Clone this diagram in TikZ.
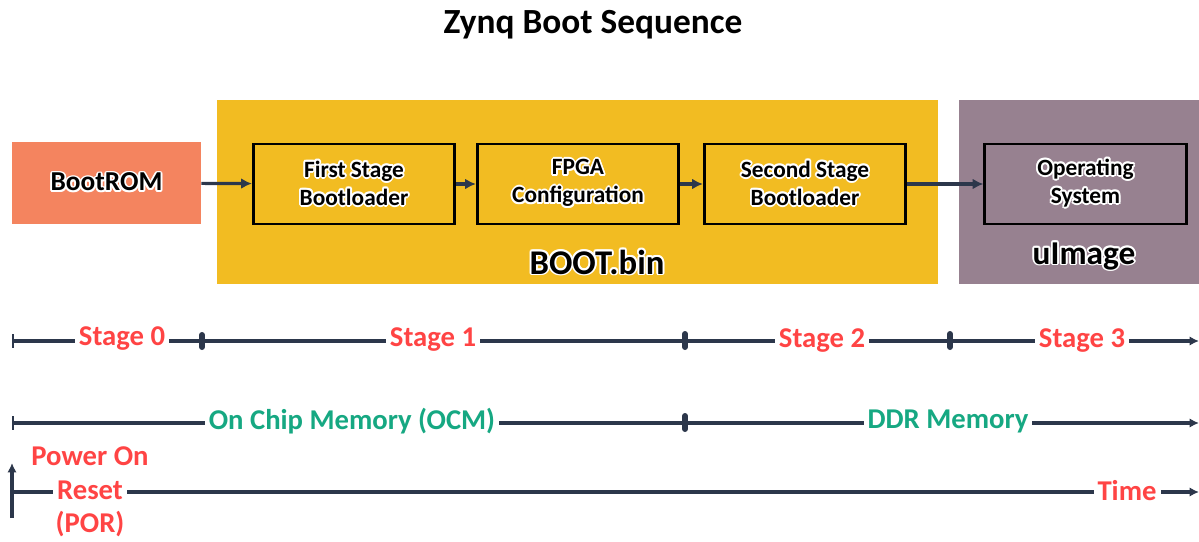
\documentclass[tikz,border=0pt]{standalone}
\usepackage{fontspec}
\setmainfont{Carlito}
\usepackage{contour}
\contourlength{1.4pt}
\contournumber{10}
\usetikzlibrary{arrows.meta}
\definecolor{salmon}{RGB}{244,132,95}
\definecolor{gold}{RGB}{242,188,34}
\definecolor{mauve}{RGB}{151,129,144}
\definecolor{navy}{RGB}{44,55,75}
\definecolor{lred}{RGB}{255,68,68}
\definecolor{teal}{RGB}{22,168,130}
\tikzset{
  blk/.style={draw=black, line width=2.2pt, minimum width=151pt, minimum height=60pt, align=center, font=\bfseries\fontsize{17.5}{21}\selectfont, inner sep=0pt},
  flow/.style={navy, line width=2.4pt, -{Latex[length=8pt,width=8pt]}},
  tla/.style={navy, line width=2.4pt, -{Latex[length=7pt,width=7pt]}},
  tick/.style={navy, line width=4.5pt, line cap=round},
  lab/.style={fill=white, inner xsep=3pt, inner ysep=0pt, font=\bfseries\fontsize{21.5}{22}\selectfont},
  plainlab/.style={inner sep=0pt, font=\bfseries\fontsize{21.5}{22}\selectfont},
}
\newcommand{\wt}[1]{\contour{white}{#1}}
\begin{document}
\begin{tikzpicture}[x=0.75pt,y=-0.75pt]
\useasboundingbox (0,0) rectangle (1199,542);
% title
\node[font=\bfseries\fontsize{26.5}{28}\selectfont] (title) at (593,25) {Zynq Boot Sequence};
% backgrounds
\fill[gold] (217,100) rectangle (938,284);
\fill[mauve] (959,100) rectangle (1199,284);
\node[minimum width=142pt, minimum height=61.5pt, fill=salmon, inner sep=0pt, font=\bfseries\fontsize{20.5}{22}\selectfont] (rom) at (106.5,183) {\wt{BootROM}};
\node[blk] (fsbl) at (354,184) {\wt{First Stage}\\\wt{Bootloader}};
\node[blk] (fpga) at (578,184) {\wt{FPGA}\\\wt{Configuration}};
\node[blk] (ssbl) at (805,184) {\wt{Second Stage}\\\wt{Bootloader}};
\node[blk] (os) at (1085.5,184) {\wt{Operating}\\\wt{System}};
\node[font=\bfseries\fontsize{26}{28}\selectfont] (bootbin) at (597,263) {\wt{BOOT.bin}};
\node[font=\bfseries\fontsize{25}{27}\selectfont] (uimage) at (1084,257) {\wt{uImage}};
\draw[flow] (rom) -- (fsbl);
\draw[flow] (fsbl) -- (fpga);
\draw[flow] (fpga) -- (ssbl);
\draw[flow] (ssbl) -- (os);
% stage timeline
\coordinate (s0) at (13,341);
\coordinate (s1) at (1199,341);
\draw[tla] (s0) -- (s1);
\draw[navy, line width=2pt] (13,334) -- (13,348);
\draw[tick] (202,335) -- (202,347);
\draw[tick] (685,334) -- (685,347);
\draw[tick] (950,334) -- (950,347);
\node[lab, text=lred] (st0) at (122,339) {Stage 0};
\node[lab, text=lred] (st1) at (433,340) {Stage 1};
\node[lab, text=lred] (st2) at (822,341) {Stage 2};
\node[lab, text=lred] (st3) at (1082,341) {Stage 3};
% memory timeline
\coordinate (m0) at (13,423);
\coordinate (m1) at (1199,423);
\draw[tla] (m0) -- (m1);
\draw[navy, line width=2pt] (13,416) -- (13,430);
\draw[tick] (685,416) -- (685,429);
\node[lab, text=teal] (ocm) at (352,421) {On Chip Memory (OCM)};
\node[lab, text=teal] (ddr) at (948,421) {DDR Memory};
% time line
\coordinate (t0) at (12,492);
\coordinate (t1) at (1199,492);
\coordinate (p0) at (12,518);
\coordinate (p1) at (12,463);
\draw[tla] (t0) -- (t1);
\draw[tla] (p0) -- (p1);
\node[plainlab, text=lred] (por1) at (90,456) {Power On};
\node[lab, text=lred] (por2) at (90,490) {Reset};
\node[plainlab, text=lred] (por3) at (90,524) {(POR)};
\node[lab, text=lred] (time) at (1127,491) {Time};
\end{tikzpicture}
\end{document}
